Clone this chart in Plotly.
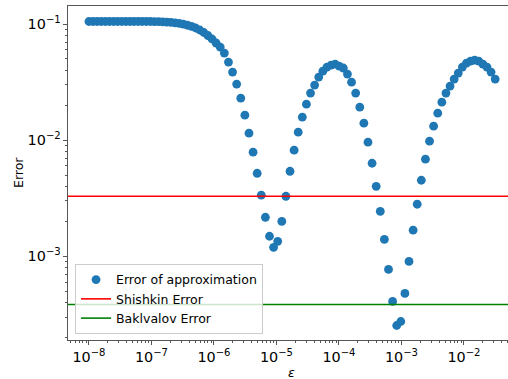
import numpy as np
import plotly.graph_objects as go

# ---- data ----
eps_min_exp = -8.0
eps_max_exp = -1.5
n_points = 100
epsilon = np.logspace(eps_min_exp, eps_max_exp, n_points)

approx_error = [
    0.1051, 0.1051, 0.1051, 0.1051, 0.1051, 0.1051, 0.1051, 0.1051,
    0.1051, 0.1051, 0.1051, 0.1051, 0.1051, 0.1051, 0.1051, 0.1051,
    0.1049, 0.1047, 0.1043, 0.1039, 0.1032, 0.1024, 0.1012, 0.0996,
    0.0976, 0.0953, 0.0924, 0.0888, 0.0845, 0.0796, 0.0743, 0.0686,
    0.0633, 0.0562, 0.0470, 0.0386, 0.0304, 0.0230, 0.01642, 0.01149,
    0.00788, 0.00519, 0.00336, 0.00217, 0.00149, 0.001196, 0.001346, 0.00200,
    0.00329, 0.00540, 0.00820, 0.01172, 0.01579, 0.02043, 0.02542, 0.02979,
    0.0349, 0.0393, 0.0426, 0.0443, 0.0452, 0.0434, 0.0418, 0.0371,
    0.0316, 0.02542, 0.01925, 0.01402, 0.00961, 0.00633, 0.00401, 0.00244,
    0.00140, 0.000772, 0.000409, 0.000254, 0.000275, 0.000480, 0.000905, 0.00168,
    0.00281, 0.00452, 0.00686, 0.00980, 0.01320, 0.01709, 0.02126, 0.02542,
    0.02920, 0.0336, 0.0378, 0.0426, 0.0461, 0.0480, 0.0489, 0.0480,
    0.0452, 0.0426, 0.0386, 0.0336,
]
shishkin_error = 3.29e-3
bakhvalov_error = 3.85e-4

series_names = ["Error of approximation", "Shishkin Error", "Baklvalov Error"]
x_label = "<i>ε</i>"
y_label = "Error"

# ---- figure ----
blue = "#1f77b4"
axis_col = "#555555"
font_family = "DejaVu Sans"

x_span = [epsilon[0] / 10, epsilon[-1] * 10]

fig = go.Figure()
fig.add_trace(go.Scatter(
    x=epsilon, y=approx_error, mode="markers", name=series_names[0],
    marker=dict(color=blue, size=8.8, line=dict(width=0)), legendrank=1,
))
fig.add_trace(go.Scatter(
    x=x_span, y=[shishkin_error, shishkin_error], mode="lines", name=series_names[1],
    line=dict(color="red", width=1.6), legendrank=2,
))
fig.add_trace(go.Scatter(
    x=x_span, y=[bakhvalov_error, bakhvalov_error], mode="lines", name=series_names[2],
    line=dict(color="green", width=1.6), legendrank=3,
))

common_axis = dict(
    type="log", showgrid=False, zeroline=False, showline=True, linecolor=axis_col,
    linewidth=1, ticks="outside", ticklen=4, tickwidth=1, tickcolor=axis_col,
    dtick=1, exponentformat="power",
    tickfont=dict(family=font_family, size=11.5, color="black"),
    minor=dict(ticks="outside", ticklen=2, tickwidth=1, tickcolor=axis_col,
               dtick="D1", showgrid=False),
)

fig.update_layout(
    width=508, height=379,
    margin=dict(l=68, r=0, t=6, b=39),
    plot_bgcolor="white", paper_bgcolor="white",
    font=dict(family=font_family, size=11, color="black"),
    xaxis=dict(common_axis, range=[-8.335, -1.295], mirror=True),
    yaxis=dict(common_axis, range=[-3.72, -0.845]),
    showlegend=True,
    legend=dict(
        x=0.016, y=0.018, xanchor="left", yanchor="bottom",
        bgcolor="rgba(255,255,255,0.8)", bordercolor="#cccccc", borderwidth=1,
        font=dict(family=font_family, size=12.5, color="black"),
    ),
    annotations=[
        dict(text=y_label, xref="paper", yref="paper", x=-0.1136, y=0.5,
             textangle=-90, showarrow=False, font=dict(size=12.5),
             xanchor="center", yanchor="middle"),
        dict(text=x_label, xref="paper", yref="paper", x=0.507, y=-0.0988,
             showarrow=False, font=dict(size=12.5),
             xanchor="center", yanchor="middle"),
    ],
)

fig.write_html("out.html")
